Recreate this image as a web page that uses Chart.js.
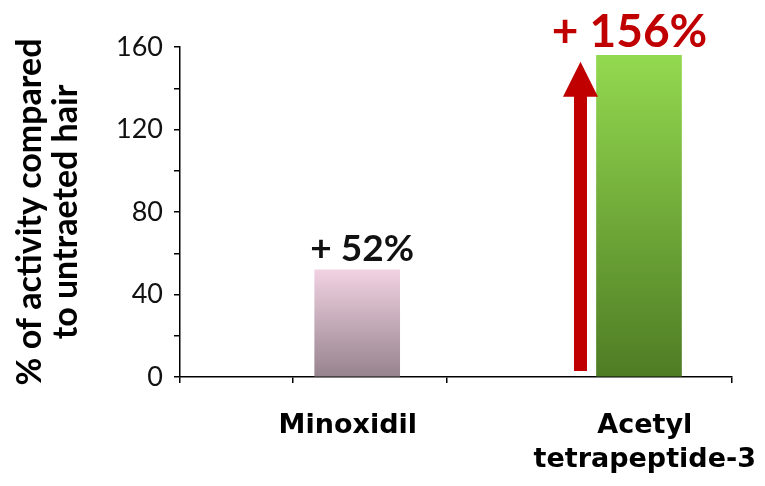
<!DOCTYPE html>
<html>
<head>
<meta charset="utf-8">
<script src="https://cdn.jsdelivr.net/npm/chart.js@4"></script>
<style>
  html, body { margin: 0; padding: 0; background: #ffffff; }
  #wrap { width: 765px; height: 486px; }
</style>
</head>
<body>
<div id="wrap"><canvas id="chart" width="765" height="486"></canvas></div>
<script>
// Categories and measured activity (% vs untreated hair)
const categories = ['Minoxidil', ['Acetyl', 'tetrapeptide-3']];
const activity = [52, 156];
const increaseLabels = ['+ 52%', '+ 156%'];
const yTickValues = [0, 40, 80, 120, 160];
const axisTitle = ['% of activity compared', 'to untraeted hair'];

// Where things sit along the x axis (axis runs 0 → 1)
const barSlots = [0.321, 0.8315];
const labelSlots = [0.304, 0.842];
const groupBreaks = [0, 0.205, 0.484, 1];

// Styling (kept apart from the data)
const FONT = 'Lato, "Open Sans", "DejaVu Sans", sans-serif';
const WIDE_FONT = '"DejaVu Sans", Verdana, sans-serif';
const barStops = [
  ['#f1d2e2', '#96838e'],
  ['#93d94f', '#4e7c24']
];
const labelStyles = [
  { color: '#111111', size: 37, dx: 5, gap: 9 },
  { color: '#c00000', size: 46, dx: -9.5, gap: 8 }
];
const ARROW_RED = '#c00000';

function barGradient(ctx) {
  const i = ctx.dataIndex;
  const chart = ctx.chart;
  const y = chart.scales && chart.scales.y;
  if (!y || !chart.chartArea) return barStops[i][1];
  const top = y.getPixelForValue(activity[i]);
  const bottom = y.getPixelForValue(0);
  const g = chart.ctx.createLinearGradient(0, top, 0, bottom);
  g.addColorStop(0, barStops[i][0]);
  g.addColorStop(1, barStops[i][1]);
  return g;
}

const isLabelSlot = (v) => labelSlots.some((s) => Math.abs(s - v) < 1e-9);

// Percentage labels above the bars and the upward arrow beside the second bar
const annotate = {
  id: 'annotate',
  afterDatasetsDraw(chart) {
    const ctx = chart.ctx;
    const meta = chart.getDatasetMeta(0);
    const y = chart.scales.y;
    ctx.save();
    meta.data.forEach((bar, i) => {
      const s = labelStyles[i];
      ctx.font = 'bold ' + s.size + 'px ' + FONT;
      ctx.fillStyle = s.color;
      ctx.textAlign = 'center';
      ctx.textBaseline = 'alphabetic';
      ctx.fillText(increaseLabels[i], bar.x + s.dx, bar.y - s.gap);
    });
    const bar = meta.data[1];
    const cx = bar.x - bar.width / 2 - 16;
    const tip = bar.y + 6.5;
    const headBase = tip + 35;
    const bottom = y.getPixelForValue(0) - 6;
    const shaft = 6.5, head = 17.5;
    ctx.fillStyle = ARROW_RED;
    ctx.beginPath();
    ctx.moveTo(cx - shaft, bottom);
    ctx.lineTo(cx - shaft, headBase);
    ctx.lineTo(cx - head, headBase);
    ctx.lineTo(cx, tip);
    ctx.lineTo(cx + head, headBase);
    ctx.lineTo(cx + shaft, headBase);
    ctx.lineTo(cx + shaft, bottom);
    ctx.closePath();
    ctx.fill();
    ctx.restore();
  }
};

new Chart(document.getElementById('chart'), {
  type: 'bar',
  data: {
    datasets: [{
      label: 'activity',
      data: activity.map((v, i) => ({ x: barSlots[i], y: v })),
      backgroundColor: barGradient,
      barThickness: 85
    }]
  },
  options: {
    responsive: false,
    devicePixelRatio: 1,
    animation: false,
    layout: { padding: { top: 47, right: 33, bottom: 0, left: 0 } },
    plugins: { legend: { display: false }, tooltip: { enabled: false } },
    scales: {
      x: {
        type: 'linear',
        min: 0,
        max: 1,
        offset: false,
        afterBuildTicks(scale) {
          scale.ticks = [...groupBreaks, ...labelSlots].sort((a, b) => a - b).map((v) => ({ value: v }));
        },
        grid: {
          offset: false,
          drawOnChartArea: false,
          tickLength: 6,
          lineWidth: 1.5,
          color: (ctx) => (ctx.tick && isLabelSlot(ctx.tick.value) ? 'rgba(0,0,0,0)' : '#000')
        },
        border: { color: '#000', width: 1.5 },
        ticks: {
          color: '#000',
          autoSkip: false,
          minRotation: 0,
          maxRotation: 0,
          padding: 26,
          font: { family: WIDE_FONT, size: 27, weight: 'bold', lineHeight: 1.26 },
          callback: (v) => {
            const i = labelSlots.findIndex((s) => Math.abs(s - v) < 1e-9);
            return i >= 0 ? categories[i] : '';
          }
        },
        afterFit(scale) { scale.height = 109; }
      },
      y: {
        min: 0,
        max: 160,
        afterBuildTicks(scale) {
          const t = [];
          for (let v = 0; v <= 160; v += 20) t.push({ value: v });
          scale.ticks = t;
        },
        grid: { drawOnChartArea: false, tickLength: 6, color: '#000', lineWidth: 1.5 },
        border: { color: '#000', width: 1.5 },
        ticks: {
          color: '#111111',
          padding: 11,
          font: { family: FONT, size: 27 },
          callback: (v) => (yTickValues.includes(v) ? String(v) : '')
        },
        title: {
          display: true,
          text: axisTitle,
          color: '#000',
          padding: { top: 12, bottom: 0 },
          font: { family: FONT, size: 34, weight: 'bold', lineHeight: 1.05 }
        },
        afterFit(scale) {
          scale.width = 180;
          scale.paddingTop = 0;
        }
      }
    }
  },
  plugins: [annotate]
});
</script>
</body>
</html>
